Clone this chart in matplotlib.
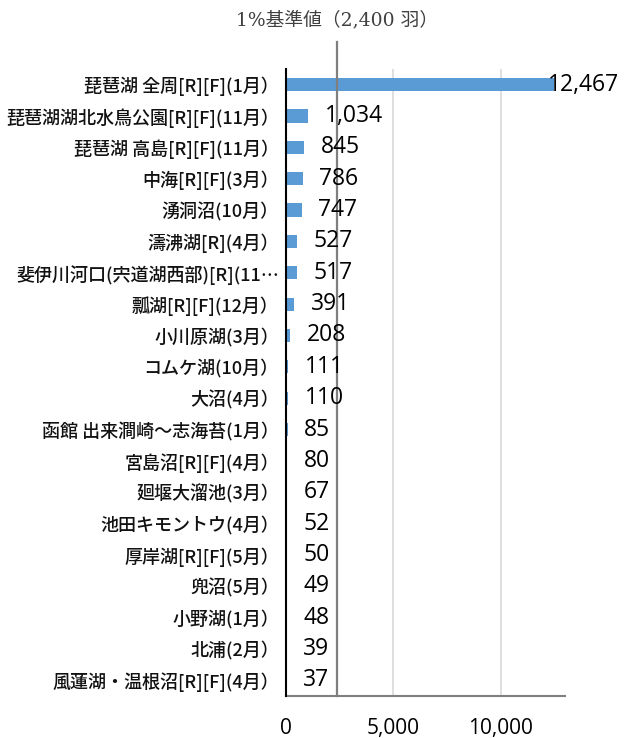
import numpy as np
import matplotlib.pyplot as plt
from matplotlib import transforms

# data
sites = [
    "琵琶湖 全周[R][F](1月）",
    "琵琶湖湖北水鳥公園[R][F](11月）",
    "琵琶湖 高島[R][F](11月）",
    "中海[R][F](3月）",
    "湧洞沼(10月）",
    "濤沸湖[R](4月）",
    "斐伊川河口(宍道湖西部)[R](11…",
    "瓢湖[R][F](12月）",
    "小川原湖(3月）",
    "コムケ湖(10月）",
    "大沼(4月）",
    "函館 出来澗崎～志海苔(1月）",
    "宮島沼[R][F](4月）",
    "廻堰大溜池(3月）",
    "池田キモントウ(4月）",
    "厚岸湖[R][F](5月）",
    "兜沼(5月）",
    "小野湖(1月）",
    "北浦(2月）",
    "風蓮湖・温根沼[R][F](4月）",
]
counts = [12467, 1034, 845, 786, 747, 527, 517, 391, 208, 111,
          110, 85, 80, 67, 52, 50, 49, 48, 39, 37]
threshold = 2400
xticks = [0, 5000, 10000]
xmax = 13000

fig = plt.figure(figsize=(6.24, 7.38), dpi=100)
ax = fig.add_axes([0.4579, 0.0569, 0.4475, 0.8496])

y = np.arange(len(sites))
ax.barh(y, counts, height=0.42, color="#5B9BD5", zorder=3)
ax.set_ylim(len(sites) - 0.5, -0.5)
ax.set_xlim(0, xmax)

ax.set_yticks(y)
ax.set_yticklabels(sites, fontfamily=["Noto Sans CJK JP", "DejaVu Sans"],
                   fontsize=13, fontweight="medium", color="#111111")
ax.tick_params(axis="y", length=0, pad=5)

ax.set_xticks(xticks)
ax.set_xticklabels([f"{v:,}" for v in xticks], fontfamily="Open Sans", fontsize=15)
ax.tick_params(axis="x", length=0, pad=16)
ax.grid(axis="x", color="#d9d9d9", linewidth=1.2, zorder=0)

for s in ["top", "right"]:
    ax.spines[s].set_visible(False)
ax.spines["left"].set_color("#000000")
ax.spines["left"].set_linewidth(1.5)
ax.spines["left"].set_zorder(5)
ax.spines["bottom"].set_color("#7f7f7f")
ax.spines["bottom"].set_linewidth(1.5)

# 1% threshold line
ax.axvline(threshold, ymin=0, ymax=1.043, color="#7f7f7f", linewidth=1.6,
           clip_on=False, zorder=4)
trans = transforms.blended_transform_factory(ax.transData, ax.transAxes)
ax.text(threshold, 1.078, "1%基準値（2,400 羽）", transform=trans,
        ha="center", va="center", fontsize=13.5, color="#404040",
        family=["DejaVu Serif", "Noto Sans CJK JP"])

# data labels
for yi, v in zip(y, counts):
    off = -4 if v > 0.9 * xmax else 12
    ax.annotate(f"{v:,}", (v, yi), xytext=(off, 0), textcoords="offset points",
                ha="left", va="center", fontsize=16.5, fontfamily="Open Sans",
                color="#000000", zorder=6)

fig.savefig("out.png", dpi=100)
